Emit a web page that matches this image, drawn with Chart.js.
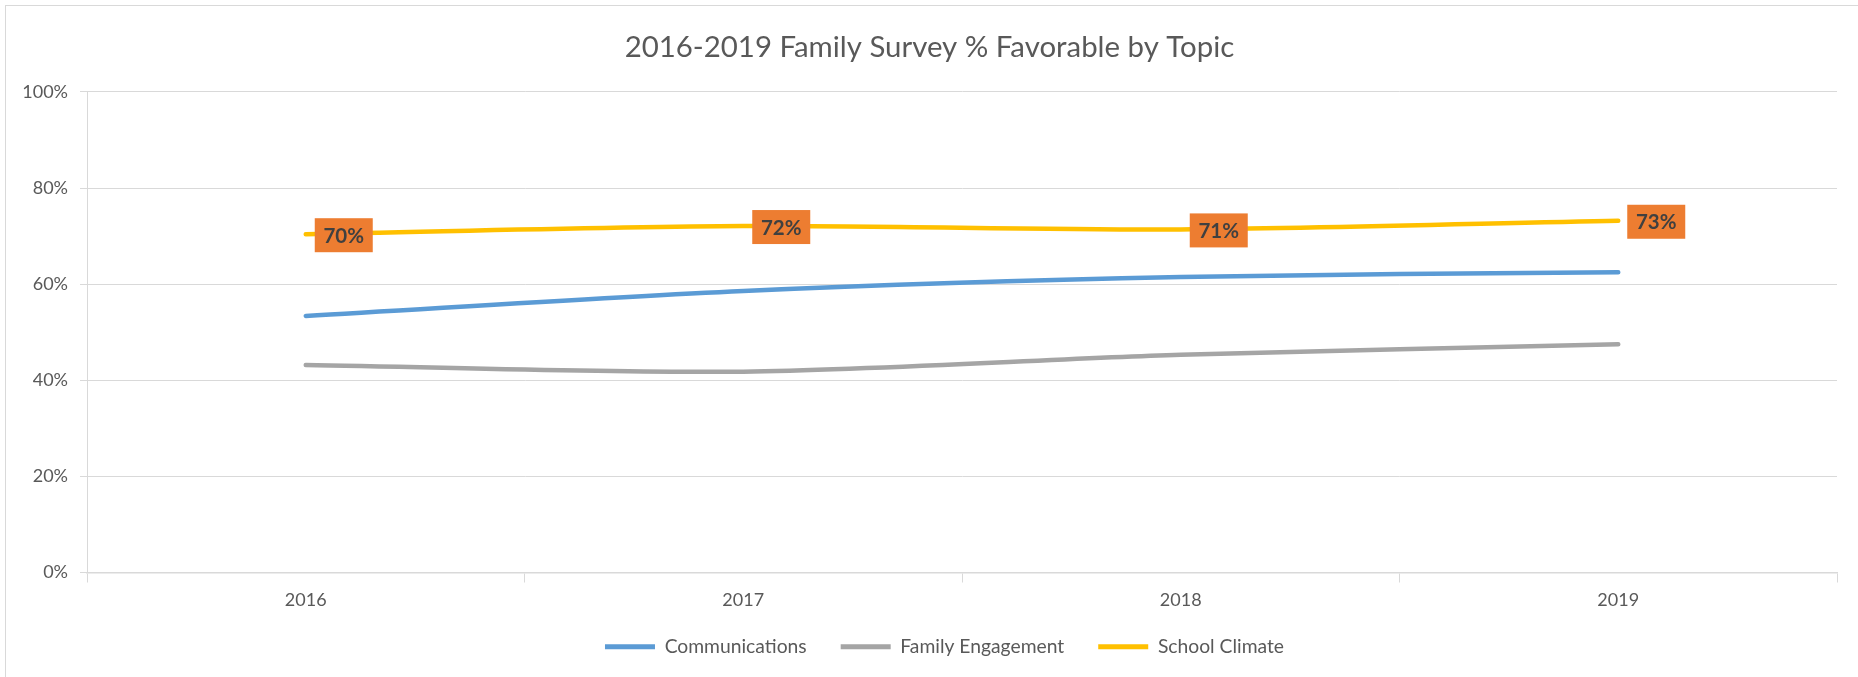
<!DOCTYPE html>
<html>
<head>
<meta charset="utf-8">
<script src="https://cdn.jsdelivr.net/npm/chart.js@4/dist/chart.umd.min.js"></script>
<style>
    body { margin: 0; background: #ffffff; }
    #cadre { position: absolute; left: 5px; top: 5px; width: 1853px; height: 672px; border-left: 1px solid #d9d9d9; border-top: 1px solid #d9d9d9; }
    #zone { position: absolute; left: 0; top: 0; width: 1858px; height: 677px; }
</style>
</head>
<body>
<div id="cadre"></div>
<div id="zone"><canvas id="GraphiqueSondage" width="1858" height="677"></canvas></div>
<script>
var annees = ['2016', '2017', '2018', '2019'];
var communications = [53.4, 58.6, 61.5, 62.5];
var engagementFamille = [43.2, 41.8, 45.3, 47.5];
var climatScolaire = [70.4, 72.1, 71.4, 73.2];
var graduations = [0, 20, 40, 60, 80, 100];

var gris = '#595959';
var grille = '#d9d9d9';

// etiquettes orange a droite des points de School Climate
var etiquettes = {
    id: 'etiquettes',
    afterLayout: function (chart) {
        // les axes gardent leur place mais leurs libelles ne sont pas coupes
        var y = chart.scales.y;
        y.width = y.right;
        y.left = 0;
        var x = chart.scales.x;
        x.bottom = chart.height;
        x.height = x.bottom - x.top;
        if (chart.titleBlock) {
            chart.titleBlock.left = 22;
        }
    },
    afterDatasetsDraw: function (chart) {
        var ctx = chart.ctx;
        var meta = chart.getDatasetMeta(2);
        var valeurs = chart.data.datasets[2].data;
        ctx.save();
        ctx.font = 'bold 20.5px Lato';
        ctx.textAlign = 'center';
        ctx.textBaseline = 'middle';
        meta.data.forEach(function (pt, i) {
            var l = 58, h = 34;
            var x = pt.x + 9;
            var y = pt.y + 1 - h / 2;
            ctx.fillStyle = '#ed7d31';
            ctx.fillRect(x, y, l, h);
            ctx.fillStyle = '#404040';
            ctx.fillText(Math.round(valeurs[i]) + '%', x + l / 2, y + h / 2 + 1);
        });
        ctx.restore();
    }
};

var ctx = document.getElementById('GraphiqueSondage').getContext('2d');

var graphique = new Chart(ctx, {
    type: 'line',
    data: {
        labels: annees,
        datasets: [
            { label: 'Communications', data: communications, borderColor: '#5b9bd5', backgroundColor: '#5b9bd5' },
            { label: 'Family Engagement', data: engagementFamille, borderColor: '#a5a5a5', backgroundColor: '#a5a5a5' },
            { label: 'School Climate', data: climatScolaire, borderColor: '#ffc000', backgroundColor: '#ffc000' }
        ]
    },
    options: {
        responsive: false,
        animation: false,
        layout: { padding: { left: 52, right: 21, top: 0, bottom: 14 } },
        elements: {
            line: { borderWidth: 4.5, tension: 0.3, borderCapStyle: 'round' },
            point: { radius: 0, hoverRadius: 0, borderWidth: 5 }
        },
        plugins: {
            title: {
                display: true,
                text: '2016-2019 Family Survey % Favorable by Topic',
                color: gris,
                font: { family: 'Lato', size: 29.4, weight: 'normal' },
                padding: { top: 29.4, bottom: 27.3 }
            },
            legend: {
                position: 'bottom',
                maxHeight: 60,
                labels: {
                    color: gris,
                    font: { family: 'Lato', size: 19.3 },
                    usePointStyle: true,
                    pointStyle: 'line',
                    pointStyleWidth: 50,
                    padding: 34
                }
            },
            tooltip: { enabled: false }
        },
        scales: {
            x: {
                offset: true,
                grid: { offset: true, drawOnChartArea: false, drawTicks: true, tickLength: 10, color: grille },
                border: { display: true, color: grille, width: 1.5 },
                ticks: { color: gris, font: { family: 'Lato', size: 18 }, padding: 7 },
                afterFit: function (s) { s.height = 30.5; }
            },
            y: {
                min: 0,
                max: 100,
                afterBuildTicks: function (s) {
                    s.ticks = graduations.map(function (v) { return { value: v }; });
                },
                grid: { color: grille, tickLength: 7 },
                border: { display: true, color: grille },
                ticks: {
                    color: gris,
                    font: { family: 'Lato', size: 18 },
                    padding: 12,
                    callback: function (v) { return v + '%'; }
                },
                afterFit: function (s) { s.width = 35; }
            }
        }
    },
    plugins: [etiquettes]
});
</script>
</body>
</html>
